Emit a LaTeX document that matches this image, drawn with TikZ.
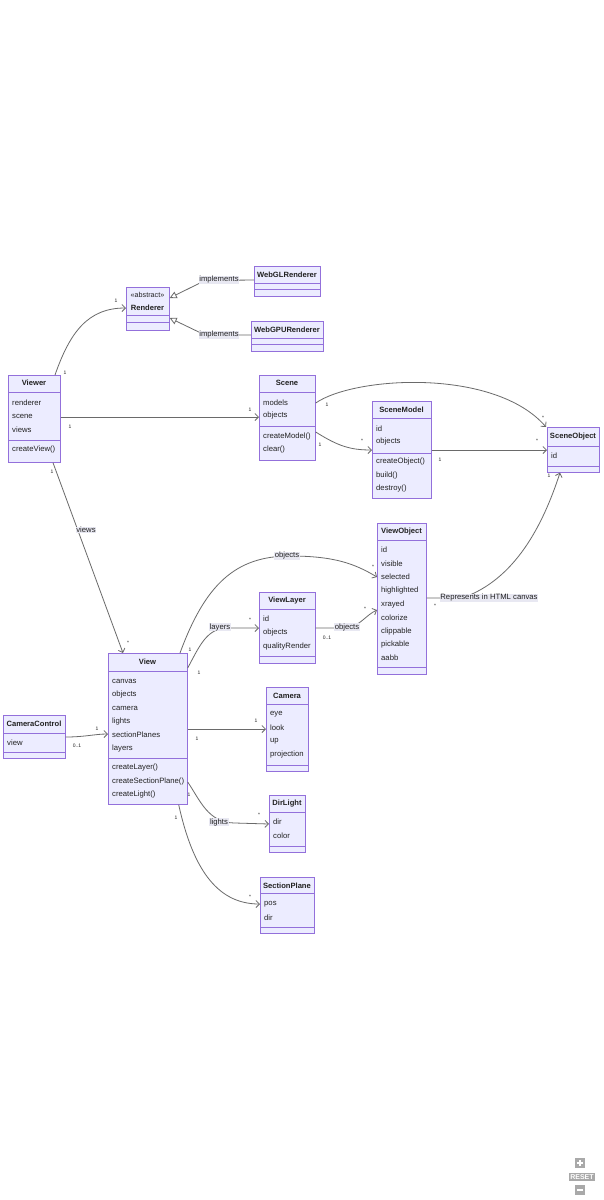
\documentclass[tikz,border=0pt]{standalone}
\usepackage{fontspec}
\setmainfont{Liberation Sans}
\usetikzlibrary{arrows.meta,calc}
\definecolor{boxfill}{HTML}{ECECFF}
\definecolor{boxline}{HTML}{9370DB}
\definecolor{edgec}{HTML}{6A6A6A}
\definecolor{lblbg}{HTML}{E8E8F2}
\definecolor{txt}{HTML}{222222}
\definecolor{ctrl}{HTML}{A9A9A9}
\tikzset{
  cls/.style={draw=boxline, fill=boxfill, line width=0.7pt, inner sep=0pt, anchor=north west},
  divline/.style={draw=boxline, line width=0.7pt},
  ttl/.style={font=\bfseries\fontsize{7.6}{9}\selectfont, inner sep=0pt, text=txt},
  att/.style={font=\fontsize{7.7}{9}\selectfont, inner sep=0pt, anchor=west, text=txt},
  mult/.style={font=\fontsize{5}{6}\selectfont, inner sep=0pt, text=txt},
  rel/.style={draw=edgec, line width=0.8pt, -{Straight Barb[length=3.5pt,width=7pt]}},
  impl/.style={draw=edgec, line width=0.8pt, -{Triangle[open,length=7pt,width=7pt,fill=white]}},
  elbl/.style={font=\fontsize{7.7}{9}\selectfont, fill=lblbg, inner sep=0.6pt, text=txt},
}
\newcommand\clsbox[5]{\node[cls, minimum width={#4-#2}, minimum height={#5-#3}] (#1) at (#2,#3) {};}
\newcommand\divl[2]{\draw[divline] (#1.west |- 0,#2) -- (#1.east |- 0,#2);}
\begin{document}
\begin{tikzpicture}[x=1pt,y=-1pt]
\useasboundingbox[fill=white] (0,0) rectangle (603,1200);

% ---------- Renderer ----------
\clsbox{renderer}{126}{287}{169}{330}
\node[ttl, font=\fontsize{7.2}{9}\selectfont] (renderer-st) at (147.5,295) {«abstract»};
\node[ttl] (renderer-t) at (147.5,308) {Renderer};
\divl{renderer}{315}\divl{renderer}{322}

% ---------- WebGLRenderer ----------
\clsbox{webgl}{254}{266}{320}{296}
\node[ttl] (webgl-t) at (287,275) {WebGLRenderer};
\divl{webgl}{283}\divl{webgl}{289.5}

% ---------- WebGPURenderer ----------
\clsbox{webgpu}{251}{321}{323}{351}
\node[ttl] (webgpu-t) at (287,330) {WebGPURenderer};
\divl{webgpu}{338}\divl{webgpu}{344.5}

% ---------- Viewer ----------
\clsbox{viewer}{8}{375}{60}{462}
\node[ttl] (viewer-t) at (34,383) {Viewer};
\divl{viewer}{392}
\node[att] (viewer-a1) at (12,402.5) {renderer};
\node[att] (viewer-a2) at (12,416.5) {scene};
\node[att] (viewer-a3) at (12,430) {views};
\divl{viewer}{440}
\node[att] (viewer-m1) at (12,449.5) {createView()};

% ---------- Scene ----------
\clsbox{scene}{259}{375}{315}{460}
\node[ttl] (scene-t) at (287,383) {Scene};
\divl{scene}{392}
\node[att] (scene-a1) at (263,402.5) {models};
\node[att] (scene-a2) at (263,416) {objects};
\divl{scene}{426.5}
\node[att] (scene-m1) at (263,436) {createModel()};
\node[att] (scene-m2) at (263,449.5) {clear()};

% ---------- SceneModel ----------
\clsbox{scenemodel}{372}{401}{431}{498}
\node[ttl] (scenemodel-t) at (401.5,409.5) {SceneModel};
\divl{scenemodel}{418}
\node[att] (scenemodel-a1) at (376,428.5) {id};
\node[att] (scenemodel-a2) at (376,442) {objects};
\divl{scenemodel}{453}
\node[att] (scenemodel-m1) at (376,461.5) {createObject()};
\node[att] (scenemodel-m2) at (376,475) {build()};
\node[att] (scenemodel-m3) at (376,488.5) {destroy()};

% ---------- SceneObject ----------
\clsbox{sceneobject}{547}{427}{599}{472}
\node[ttl] (sceneobject-t) at (573,436.5) {SceneObject};
\divl{sceneobject}{446}
\node[att] (sceneobject-a1) at (551,456) {id};
\divl{sceneobject}{466.5}

% ---------- ViewObject ----------
\clsbox{viewobject}{377}{523}{426}{674}
\node[ttl] (viewobject-t) at (401.5,531.5) {ViewObject};
\divl{viewobject}{540}
\node[att] (vo-a1) at (381,550) {id};
\node[att] (vo-a2) at (381,563.5) {visible};
\node[att] (vo-a3) at (381,577) {selected};
\node[att] (vo-a4) at (381,590.5) {highlighted};
\node[att] (vo-a5) at (381,604) {xrayed};
\node[att] (vo-a6) at (381,617.5) {colorize};
\node[att] (vo-a7) at (381,631) {clippable};
\node[att] (vo-a8) at (381,644.5) {pickable};
\node[att] (vo-a9) at (381,658) {aabb};
\divl{viewobject}{667.5}

% ---------- ViewLayer ----------
\clsbox{viewlayer}{259}{592}{315}{663}
\node[ttl] (viewlayer-t) at (287,600.5) {ViewLayer};
\divl{viewlayer}{609}
\node[att] (vl-a1) at (263,619) {id};
\node[att] (vl-a2) at (263,632.5) {objects};
\node[att] (vl-a3) at (263,646) {qualityRender};
\divl{viewlayer}{656}

% ---------- View ----------
\clsbox{view}{108}{653}{187}{804}
\node[ttl] (view-t) at (147.5,661.5) {View};
\divl{view}{671}
\node[att] (view-a1) at (112,681) {canvas};
\node[att] (view-a2) at (112,694.5) {objects};
\node[att] (view-a3) at (112,708) {camera};
\node[att] (view-a4) at (112,721) {lights};
\node[att] (view-a5) at (112,734.5) {sectionPlanes};
\node[att] (view-a6) at (112,748) {layers};
\divl{view}{758}
\node[att] (view-m1) at (112,767.5) {createLayer()};
\node[att] (view-m2) at (112,781) {createSectionPlane()};
\node[att] (view-m3) at (112,794.5) {createLight()};

% ---------- CameraControl ----------
\clsbox{camctrl}{3}{715}{65}{758}
\node[ttl] (camctrl-t) at (34,723.5) {CameraControl};
\divl{camctrl}{733}
\node[att] (camctrl-a1) at (7,743) {view};
\divl{camctrl}{752.5}

% ---------- Camera ----------
\clsbox{camera}{266}{687}{308}{771}
\node[ttl] (camera-t) at (287,695.5) {Camera};
\divl{camera}{704}
\node[att] (cam-a1) at (270,714) {eye};
\node[att] (cam-a2) at (270,727.5) {look};
\node[att] (cam-a3) at (270,741) {up};
\node[att] (cam-a4) at (270,754.5) {projection};
\divl{camera}{765.5}

% ---------- DirLight ----------
\clsbox{dirlight}{269}{795}{305}{852}
\node[ttl] (dirlight-t) at (287,803.5) {DirLight};
\divl{dirlight}{812}
\node[att] (dl-a1) at (273,822) {dir};
\node[att] (dl-a2) at (273,835.5) {color};
\divl{dirlight}{846}

% ---------- SectionPlane ----------
\clsbox{sectionplane}{260}{877}{314}{933}
\node[ttl] (sectionplane-t) at (287,885.5) {SectionPlane};
\divl{sectionplane}{893}
\node[att] (sp-a1) at (264,904) {pos};
\node[att] (sp-a2) at (264,917.5) {dir};
\divl{sectionplane}{927.5}

% ================= connectors =================
% Viewer -> Renderer
\draw[rel] ($(viewer.north west)+(47,0)$) .. controls (70,332) and (88,308) .. ($(renderer.north west)+(0,21)$);
% implements
\draw[impl] ($(webgl.north west)+(0,14)$) -- (205,280.5) -- ($(renderer.north east)+(0,11)$);
\draw[impl] ($(webgpu.north west)+(0,14)$) -- (205,335) -- ($(renderer.north east)+(0,31)$);
\node[elbl] (lbl-impl1) at (219,280) {implements};
\node[elbl] (lbl-impl2) at (219,335) {implements};
% Viewer -> Scene
\draw[rel] (viewer.east |- 0,417) -- (scene.west |- 0,417);
% Viewer -> View
\draw[rel] ($(viewer.south west)+(45,0)$) -- ($(view.north west)+(15,0)$);
\node[elbl] (lbl-views) at (86,530) {views};
% Scene -> SceneObject
\draw[rel] ($(scene.north east)+(0,28)$) .. controls (355,376) and (495,368) .. ($(sceneobject.north west)+(-1,0)$);
% Scene -> SceneModel
\draw[rel] ($(scene.north east)+(0,57)$) .. controls (338,446) and (350,450) .. (scenemodel.west |- 0,450);
% SceneModel -> SceneObject
\draw[rel] (scenemodel.east |- 0,450) -- (sceneobject.west |- 0,450);
% ViewObject -> SceneObject
\draw[rel] (viewobject.east |- 0,598) -- (462,598) .. controls (515,580) and (543,525) .. ($(sceneobject.south west)+(13,0)$);
\node[elbl] (lbl-repr) at (489,598) {Represents in HTML canvas};
% View -> ViewObject
\draw[rel] ($(view.north west)+(72,0)$) .. controls (205,585) and (235,556) .. (290,556) .. controls (335,556) and (355,564) .. (viewobject.west |- 0,577);
\node[elbl] (lbl-objects1) at (287,556) {objects};
% View -> ViewLayer
\draw[rel] ($(view.north east)+(0,15)$) .. controls (200,645) and (207,628) .. (228,628) -- (viewlayer.west |- 0,628);
\node[elbl] (lbl-layers) at (220,627) {layers};
% ViewLayer -> ViewObject
\draw[rel] (viewlayer.east |- 0,628) -- (347,628) .. controls (360,626) and (366,615) .. (viewobject.west |- 0,610);
\node[elbl] (lbl-objects2) at (347,627) {objects};
% CameraControl -> View
\draw[rel] (camctrl.east |- 0,737) .. controls (85,737) and (95,734) .. (view.west |- 0,734);
% View -> Camera
\draw[rel] (view.east |- 0,729) -- (camera.west |- 0,729);
% View -> DirLight
\draw[rel] (view.east |- 0,782) .. controls (200,800) and (208,823) .. (235,823) -- (dirlight.west |- 0,824);
\node[elbl] (lbl-lights) at (219,822) {lights};
% View -> SectionPlane
\draw[rel] ($(view.south east)+(-9,0)$) .. controls (192,865) and (215,904) .. (sectionplane.west |- 0,904);

% ================= multiplicities =================
\node[mult] (m1) at (65,373) {1};
\node[mult] (m2) at (116,301) {1};
\node[mult] (m3) at (70,427) {1};
\node[mult] (m4) at (250,410) {1};
\node[mult] (m5) at (52,472) {1};
\node[mult] (m6) at (128,643) {*};
\node[mult] (m7) at (327,405) {1};
\node[mult] (m8) at (543,418) {*};
\node[mult] (m9) at (320,445) {1};
\node[mult] (m10) at (362,441) {*};
\node[mult] (m11) at (440,460) {1};
\node[mult] (m12) at (537,441) {*};
\node[mult] (m13) at (435,606) {*};
\node[mult] (m14) at (549,476) {1};
\node[mult] (m15) at (190,650) {1};
\node[mult] (m16) at (373,567) {*};
\node[mult] (m17) at (199,673) {1};
\node[mult] (m18) at (250,620) {*};
\node[mult] (m19) at (327,638) {0..1};
\node[mult] (m20) at (365,609) {*};
\node[mult] (m21) at (97,729) {1};
\node[mult] (m22) at (77,746) {0..1};
\node[mult] (m23) at (197,739) {1};
\node[mult] (m24) at (256,721) {1};
\node[mult] (m25) at (189,795) {1};
\node[mult] (m26) at (259,815) {*};
\node[mult] (m27) at (176,818) {1};
\node[mult] (m28) at (250,897) {*};

% ================= zoom controls =================
\node[fill=ctrl, minimum width=10pt, minimum height=10pt, inner sep=0pt] (zplus) at (580,1163) {};
\draw[white, line width=1.5pt] ($(zplus.center)+(-3.2,0)$) -- ($(zplus.center)+(3.2,0)$) ($(zplus.center)+(0,-3.2)$) -- ($(zplus.center)+(0,3.2)$);
\node[fill=ctrl, text=white, font=\bfseries\fontsize{7}{8}\selectfont, inner xsep=1.5pt, inner ysep=1.2pt] (zreset) at (582,1177) {RESET};
\node[fill=ctrl, minimum width=10pt, minimum height=10pt, inner sep=0pt] (zminus) at (580,1190) {};
\draw[white, line width=1.5pt] ($(zminus.center)+(-3.2,0)$) -- ($(zminus.center)+(3.2,0)$);
\end{tikzpicture}
\end{document}
